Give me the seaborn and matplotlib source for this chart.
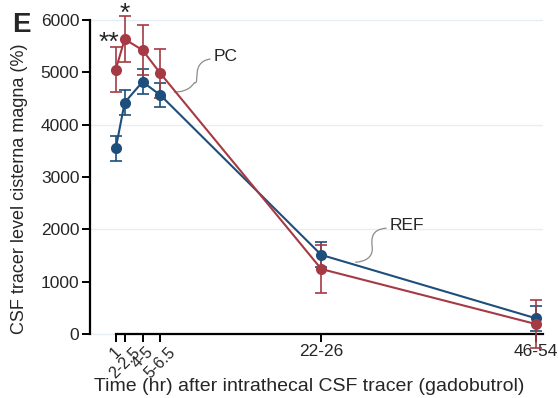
import numpy as np
import pandas as pd
import matplotlib
matplotlib.use("Agg")
import matplotlib.pyplot as plt
import seaborn as sns
from matplotlib.path import Path
from matplotlib.patches import PathPatch

# data
time_pos = [1, 2, 4, 6, 24, 48]
time_labels = ["1", "2-2.5", "4-5", "5-6.5", "22-26", "46-54"]
pc_mean = [5050, 5630, 5420, 4975, 1240, 190]
pc_err = [435, 440, 480, 460, 450, 450]
ref_mean = [3545, 4420, 4815, 4560, 1510, 300]
ref_err = [236, 230, 240, 230, 240, 240]

red = "#a63a44"
blue = "#1d4e7c"

sns.set_theme(style="white")
plt.rcParams["font.family"] = ["Liberation Sans", "DejaVu Sans"]

df = pd.DataFrame({
    "time": time_pos * 2,
    "value": ref_mean + pc_mean,
    "group": ["REF"] * 6 + ["PC"] * 6,
})

fig = plt.figure(figsize=(5.58, 3.98), dpi=100)
ax = fig.add_axes([0.161, 0.1148, 0.812, 0.875])

# light gridlines
for g in [0, 2000, 4000, 6000]:
    ax.axhline(g, color="#e3eef5", lw=1.0, zorder=0)

ax.errorbar(time_pos, ref_mean, yerr=ref_err, fmt="none", ecolor=blue,
            elinewidth=1.2, capsize=4, capthick=1.2, zorder=2)
ax.errorbar(time_pos, pc_mean, yerr=pc_err, fmt="none", ecolor=red,
            elinewidth=1.2, capsize=4, capthick=1.2, zorder=3)
sns.lineplot(data=df, x="time", y="value", hue="group",
             palette={"REF": blue, "PC": red}, marker="o", markersize=8,
             markeredgewidth=0, linewidth=1.5, legend=False, ax=ax, zorder=4)

ax.set_xlim(-1.9, 48.8)
ax.set_ylim(-350, 6300)

for s in ["top", "right"]:
    ax.spines[s].set_visible(False)
ax.spines["left"].set_bounds(0, 6000)
ax.spines["bottom"].set_position(("data", 0))
ax.spines["bottom"].set_bounds(1, 48.8)
for s in ["left", "bottom"]:
    ax.spines[s].set_color("black")
    ax.spines[s].set_linewidth(1.6)

# ticks after spine positioning (set_position resets ticks)
ax.set_xticks(time_pos)
ax.set_xticklabels(time_labels)
ax.set_yticks(range(0, 7000, 1000))
ax.tick_params(axis="both", labelsize=12.5, length=6, width=1.4, color="black",
               direction="out", bottom=True, left=True)
ax.tick_params(axis="y", pad=1.5)
ax.tick_params(axis="x", pad=1.5)
for i, lab in enumerate(ax.get_xticklabels()):
    if i < 4:
        lab.set_rotation(45)
        lab.set_ha("center")
        lab.set_va("top")
        lab.set_fontsize(11.5)

ax.set_xlabel("Time (hr) after intrathecal CSF tracer (gadobutrol)", fontsize=14)
ax.xaxis.set_label_coords(0.4845, -0.073)
ax.set_ylabel("CSF tracer level cisterna magna (%)", fontsize=13)
ax.yaxis.set_label_coords(-0.136, 0.47)

# significance marks
ax.text(0.2, 5560, "**", ha="center", va="center", fontsize=19)
ax.text(2, 6110, "*", ha="center", va="center", fontsize=19)

# labels with wavy connectors
ax.text(11.9, 5290, "PC", ha="left", va="center", fontsize=12.5)
verts = [(11.6, 5250), (9.3, 5200), (10.5, 4750), (9.8, 4800),
         (9.2, 4640), (8.2, 4620), (7.5, 4620)]
codes = [Path.MOVETO] + [Path.CURVE4] * 6
ax.add_patch(PathPatch(Path(verts, codes), fill=False, ec="#8c8c8c", lw=0.9, zorder=1))

ax.text(31.7, 2080, "REF", ha="left", va="center", fontsize=12.5)
verts = [(31.3, 2020), (29.5, 2000), (29.6, 1800), (29.7, 1650),
         (29.8, 1450), (28.8, 1380), (27.8, 1370)]
ax.add_patch(PathPatch(Path(verts, codes), fill=False, ec="#8c8c8c", lw=0.9, zorder=1))

fig.text(0.022, 0.97, "E", fontsize=20, fontweight="bold", ha="left", va="top")

fig.savefig("out.png", dpi=100)
